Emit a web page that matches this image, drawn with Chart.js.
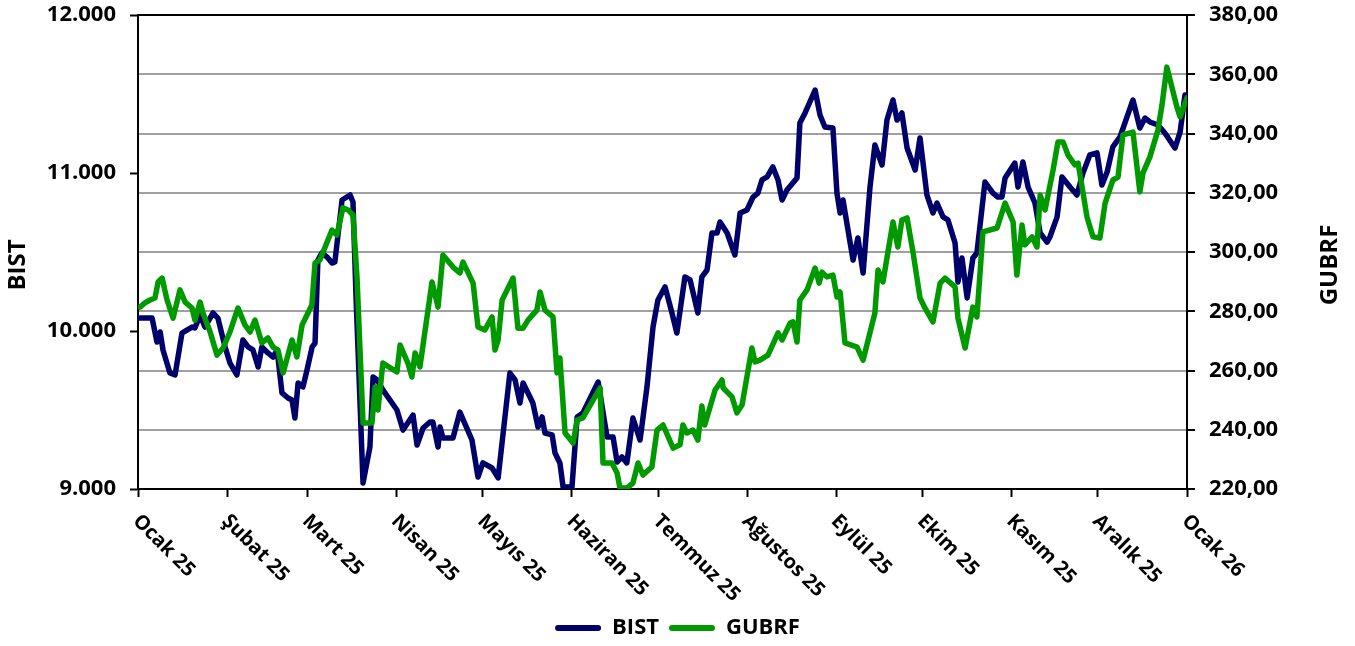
<!DOCTYPE html>
<html><head><meta charset="utf-8">
<script src="https://cdn.jsdelivr.net/npm/chart.js@4.4.1/dist/chart.umd.min.js"></script>
<style>html,body{margin:0;padding:0;background:#fff;} #wrap{width:1355px;height:646px;position:relative;overflow:hidden;}</style>
</head><body><div id="wrap"><canvas id="c"></canvas></div>
<script>
// Month starts (day offset from 1 Jan 2025) and their labels
const monthDays = [0,31,59,90,120,151,181,212,243,273,304,334,365];
const monthLabels = ['Ocak 25','Şubat 25','Mart 25','Nisan 25','Mayıs 25','Haziran 25','Temmuz 25','Ağustos 25','Eylül 25','Ekim 25','Kasım 25','Aralık 25','Ocak 26'];
const bistTicks = [9000,10000,11000,12000];
const gubrfTicks = [220,240,260,280,300,320,340,360,380];

// BIST series: day offset and value
const bistDays = [0.7,4.9,6.6,7.7,8.7,11.1,12.9,15.3,17.0,18.8,
19.8,21.6,23.3,26.1,27.8,30.3,32.0,34.4,36.5,38.3,
40.0,41.8,43.1,45.2,47.0,48.4,50.1,52.2,53.6,54.6,
55.7,57.4,58.8,60.6,61.6,62.6,64.0,65.8,67.5,68.5,
71.0,73.8,74.8,75.9,76.6,78.3,80.7,81.8,83.2,85.2,
90.1,92.2,95.7,97.1,99.2,101.6,102.6,104.4,105.1,106.1,
109.6,112.0,116.2,118.3,120.0,123.2,125.3,129.4,131.2,132.9,
134.0,137.4,139.2,140.6,141.6,144.1,145.1,146.8,147.9,151.0,
152.8,154.8,160.1,163.2,165.3,166.7,168.4,170.1,172.2,174.7,
177.1,179.2,180.9,183.4,185.8,187.5,190.3,192.1,194.8,196.2,
198.0,199.7,201.5,202.5,205.0,207.7,209.5,211.9,214.0,215.7,
217.1,218.9,220.9,222.7,224.1,225.8,229.3,230.3,232.1,235.6,
237.3,239.0,241.8,243.2,244.3,245.3,248.8,250.5,252.3,254.7,
256.4,258.9,260.6,262.7,264.1,265.8,267.6,270.4,272.1,274.5,
276.6,278.0,280.1,281.8,284.3,285.3,286.7,288.5,290.5,291.9,
294.7,297.5,299.2,300.6,301.7,305.1,306.2,307.9,309.7,312.1,
313.9,316.3,317.3,319.8,321.5,324.3,326.7,328.8,331.2,333.7,
335.4,337.2,339.2,341.7,344.1,346.2,348.6,350.4,352.1,354.9,
357.3,360.8,362.6,364.3];
const bistValues = [10082,10082,9930,9994,9880,9734,9722,9987,10006,10025,
10019,10101,10025,10114,10082,9899,9797,9722,9943,9899,
9880,9772,9899,9861,9835,9880,9608,9576,9563,9449,
9671,9646,9753,9899,9924,10449,10494,10468,10430,10437,
10829,10861,10816,10196,9861,9038,9266,9709,9690,9627,
9500,9373,9468,9278,9386,9424,9424,9266,9392,9323,
9323,9487,9310,9076,9165,9133,9070,9734,9690,9544,
9671,9544,9392,9456,9354,9342,9228,9165,9013,9013,
9456,9481,9677,9329,9329,9171,9203,9165,9449,9310,
9646,10025,10196,10279,10114,9987,10342,10323,10114,10342,
10386,10620,10620,10690,10620,10481,10747,10766,10848,10873,
10956,10975,11038,10956,10829,10892,10968,11316,11380,11525,
11367,11291,11285,10873,10747,10829,10449,10589,10367,10911,
11177,11051,11335,11462,11335,11380,11158,11019,11222,10861,
10747,10810,10722,10703,10557,10310,10462,10209,10462,10494,
10943,10873,10848,10848,10968,11063,10911,11070,10911,10810,
10620,10563,10595,10722,10975,10911,10861,11000,11114,11127,
10924,11006,11165,11228,11354,11462,11285,11348,11323,11304,
11253,11158,11259,11494];

// GUBRF series: day offset and value
const gubrfDays = [0.7,2.4,4.2,5.9,7.0,8.4,10.1,12.2,14.6,16.4,
18.8,19.8,21.6,22.6,25.1,27.5,29.6,32.0,34.8,37.2,
39.0,40.7,43.1,45.2,47.0,48.7,50.5,53.6,55.3,57.1,
58.8,60.5,61.6,63.3,65.8,67.5,69.2,71.3,73.1,74.8,
76.2,78.3,81.4,82.5,83.5,85.2,90.1,91.2,93.9,95.3,
96.4,98.1,102.3,104.4,106.1,109.6,112.0,113.1,116.6,118.3,
120.7,123.2,124.2,125.3,126.7,130.5,132.2,134.0,135.7,138.8,
139.9,141.6,144.4,145.8,146.8,148.6,151.4,152.8,154.8,160.8,
161.8,164.9,166.7,167.7,170.1,172.2,174.0,175.7,178.8,180.6,
182.7,186.2,188.6,189.6,191.0,193.1,194.8,196.2,197.2,200.8,
203.2,203.6,206.7,208.4,210.2,213.6,214.7,216.4,219.2,222.7,
224.1,226.9,227.9,229.3,230.3,232.8,235.6,237.0,238.0,239.7,
241.8,243.2,244.3,246.0,250.2,252.3,256.4,257.5,259.2,262.7,
264.4,265.8,267.6,269.7,272.1,273.8,276.6,279.1,280.8,284.3,
285.3,287.8,290.5,291.9,294.0,298.9,301.7,304.5,305.8,307.6,
308.6,311.1,312.8,313.9,315.6,318.4,320.1,321.9,323.6,326.0,
327.1,328.5,330.2,332.3,334.7,336.5,339.2,341.0,342.7,346.2,
348.6,349.7,352.1,354.9,356.3,358.0,361.5,362.6,365.0];
const gubrfValues = [281.4,282.8,283.8,284.5,289.9,291.2,283.8,277.7,287.2,283.1,
281.1,277.0,283.1,279.4,273.0,265.2,267.6,273.0,281.1,275.4,
273.0,277.0,269.3,271.0,267.9,266.9,259.2,270.3,264.6,275.4,
278.7,282.1,296.3,297.3,303.4,307.4,305.7,314.9,314.2,312.5,
291.6,242.3,242.3,254.4,246.7,262.5,259.5,268.6,262.5,257.8,
265.9,261.2,289.9,281.4,299.0,294.9,292.9,296.6,289.5,274.7,
273.7,278.1,266.9,270.3,283.8,291.2,274.3,274.3,277.0,280.4,
286.5,280.4,278.1,259.2,264.2,238.9,235.5,243.3,244.0,254.1,
228.8,228.8,225.4,220.3,220.3,222.0,228.8,224.7,227.4,239.9,
241.6,233.8,234.9,241.6,238.9,239.9,236.5,248.0,241.6,253.4,
256.8,254.1,251.1,245.7,248.4,267.6,262.9,263.5,265.2,272.7,
270.3,276.0,276.4,269.6,283.8,287.2,294.6,289.5,293.2,291.6,
292.2,284.8,286.5,269.3,267.9,263.5,279.4,293.9,289.9,310.1,
301.7,310.8,311.5,299.7,284.5,281.1,276.4,289.5,291.2,288.2,
277.7,267.6,281.4,278.1,306.8,308.1,316.5,310.1,292.2,309.1,
302.4,305.1,301.7,319.2,314.2,327.7,337.1,337.1,332.7,329.4,
330.0,321.9,311.8,305.1,304.7,316.5,324.3,325.3,339.5,340.5,
320.3,326.7,332.1,341.2,349.6,362.4,348.9,345.6,352.0];

const FONT = '"Open Sans", "DejaVu Sans", sans-serif';
const NAVY = '#00006B';
const GREEN = '#009900';

const fmtBist = v => String(v).replace(/\B(?=(\d{3})+(?!\d))/g, '.');
const fmtGubrf = v => Number(v).toFixed(2).replace('.', ',');

const overlay = {
  id: 'overlay',
  afterDraw(chart) {
    const ctx = chart.ctx, xs = chart.scales.x, area = chart.chartArea;
    ctx.save();
    ctx.fillStyle = '#000';
    ctx.font = 'bold 20px ' + FONT;
    ctx.textBaseline = 'middle';
    ctx.textAlign = 'left';
    monthDays.forEach((d, i) => {
      const x = xs.getPixelForValue(d);
      ctx.save();
      ctx.translate(x - 2, area.bottom + 29);
      ctx.rotate(Math.PI / 4);
      ctx.fillText(monthLabels[i], 0, 0);
      ctx.restore();
    });
    ctx.font = 'bold 24px ' + FONT;
    ctx.textAlign = 'center';
    const midY = (area.top + area.bottom) / 2 + 13;
    [[18, 'BIST'], [chart.width - 25, 'GUBRF']].forEach(([x, t]) => {
      ctx.save();
      ctx.translate(x, midY);
      ctx.rotate(-Math.PI / 2);
      ctx.fillText(t, 0, 0);
      ctx.restore();
    });
    ctx.restore();
  }
};

new Chart(document.getElementById('c'), {
  type: 'line',
  data: {
    datasets: [
      {
        label: 'BIST',
        data: bistDays.map((d, i) => ({x: d, y: bistValues[i]})),
        borderColor: NAVY, backgroundColor: NAVY,
        borderWidth: 5.5, pointRadius: 0, tension: 0,
        borderJoinStyle: 'round', borderCapStyle: 'round',
        yAxisID: 'y', order: 2
      },
      {
        label: 'GUBRF',
        data: gubrfDays.map((d, i) => ({x: d, y: gubrfValues[i]})),
        borderColor: GREEN, backgroundColor: GREEN,
        borderWidth: 5.5, pointRadius: 0, tension: 0,
        borderJoinStyle: 'round', borderCapStyle: 'round',
        yAxisID: 'y2', order: 1
      }
    ]
  },
  options: {
    responsive: true,
    maintainAspectRatio: false,
    animation: false,
    layout: {padding: {left: 0, right: 0, top: 15, bottom: -3}},
    plugins: {
      tooltip: {enabled: false},
      legend: {
        position: 'bottom',
        labels: {
          color: '#000',
          font: {family: FONT, size: 22, weight: 'bold'},
          boxWidth: 46, boxHeight: 6, padding: 10,
          useBorderRadius: true, borderRadius: 3,
          sort: (a, b) => a.datasetIndex - b.datasetIndex,
          generateLabels: chart => chart.data.datasets.map((ds, i) => ({
            text: ds.label, fillStyle: ds.borderColor, strokeStyle: ds.borderColor,
            lineWidth: 0, hidden: false, datasetIndex: i, fontColor: '#000', borderRadius: 3
          }))
        }
      }
    },
    scales: {
      x: {
        type: 'linear', min: 0, max: 365,
        afterBuildTicks: s => { s.ticks = monthDays.map(v => ({value: v})); },
        afterFit: s => { s.height = 118; s.paddingLeft = 0; s.paddingRight = 0; },
        ticks: {display: false},
        grid: {drawOnChartArea: false, drawTicks: true, tickLength: 8, tickColor: '#000', tickWidth: 2},
        border: {color: '#000', width: 2}
      },
      y: {
        position: 'left', min: 9000, max: 12000,
        afterBuildTicks: s => { s.ticks = bistTicks.map(v => ({value: v})); },
        afterFit: s => { s.width = 138; s.paddingTop = 0; s.paddingBottom = 0; },
        ticks: {color: '#000', padding: 14, font: {family: FONT, size: 22, weight: 'bold'}, callback: v => fmtBist(v)},
        grid: {drawOnChartArea: false, drawTicks: true, tickLength: 8, tickColor: '#000', tickWidth: 2},
        border: {color: '#000', width: 2}
      },
      y2: {
        position: 'right', min: 220, max: 380,
        afterBuildTicks: s => { s.ticks = gubrfTicks.map(v => ({value: v})); },
        afterFit: s => { s.width = 168; s.paddingTop = 0; s.paddingBottom = 0; },
        ticks: {color: '#000', padding: 14, font: {family: FONT, size: 22, weight: 'bold'}, callback: v => fmtGubrf(v)},
        grid: {
          drawOnChartArea: true, drawTicks: true, tickLength: 8, tickColor: '#000', tickWidth: 2,
          color: c => (c.tick && c.tick.value === 380) ? '#000' : '#a0a0a0',
          lineWidth: 2
        },
        border: {color: '#000', width: 2}
      }
    }
  },
  plugins: [overlay]
});
</script>
</body></html>
